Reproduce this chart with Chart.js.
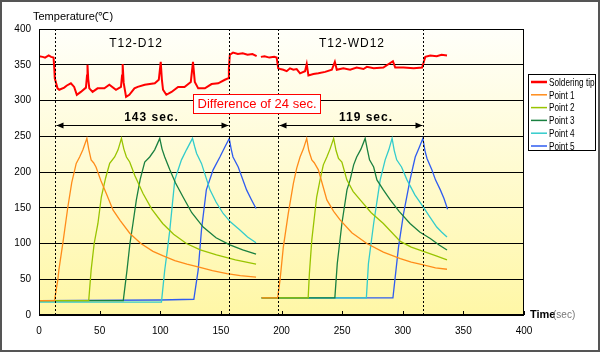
<!DOCTYPE html>
<html>
<head>
<meta charset="utf-8">
<script src="https://cdn.jsdelivr.net/npm/chart.js@4.4.1/dist/chart.umd.min.js"></script>
<style>
html, body { margin: 0; padding: 0; background: #fff; }
</style>
</head>
<body>
<canvas id="temp-chart" width="600" height="352"></canvas>
<script>
// values: time in sec, temperature in degC
// null at 181.5 splits the two runs
const tipTime = [0, 3, 5, 8, 10, 12, 12.6, 13, 15.3, 16.7, 20.8, 23, 26.3, 29, 31.2, 34.5, 38.7, 39.6, 40, 40.6, 41.5, 44.2, 48.3, 53.9, 58, 63.5, 67.6, 68.5, 69, 69.8, 71.8, 74.5, 78.7, 81.4, 87.2, 95.5, 98.8, 100.4, 101.3, 102.3, 105, 109.3, 114.7, 120, 125.2, 127, 128.5, 131.3, 136.8, 142.3, 147.8, 153.3, 156, 156.6, 157.4, 160, 164, 168, 172, 176, 179.5,
  181.5,
  183, 186, 190, 194, 196, 197.3, 199, 201.5, 204.3, 207, 209.8, 212.5, 215.3, 219.4, 220.8, 222.2, 226.3, 230.4, 236, 241.5, 244, 245.6, 251, 256.6, 262, 267.6, 270.4, 276, 284, 291.9, 293.8, 300.7, 309, 316, 317.5, 318.6, 322.7, 328, 332, 336.5];
const tipTemp = [362, 361, 360, 363, 361, 360, 345, 331, 317, 315, 318, 321, 324, 319, 308, 312, 318, 335, 350, 330, 317, 312, 317, 317, 322, 315, 319, 335, 351, 325, 305, 308, 317, 319, 322, 324, 329, 354, 330, 315, 308, 312, 319, 319, 326, 354, 326, 317, 317, 323, 324, 329, 331, 345, 364, 367, 365, 366, 364, 365, 362,
  null,
  361, 362, 360, 361, 360, 345, 344, 343, 341, 345, 343, 344, 338, 341, 351, 335, 337, 338, 340, 343, 354, 343, 345, 343, 346, 344, 347, 345, 346, 355, 346, 346, 345, 346, 355, 361, 363, 362, 364, 363];

const p1Time = [0, 12.8, 15.5, 16.4, 19.7, 23.8, 27, 30.7, 33.5, 36.2, 39.5, 41, 43, 45, 47, 51, 55.5, 61, 67, 75, 84, 94, 102, 112, 122, 132, 143, 155, 166, 179,
  181.5,
  183.6, 196.8, 198.8, 201.5, 205.6, 209.8, 212.5, 215.3, 218, 220.8, 222.5, 225, 227, 230.4, 237.4, 243, 248.3, 258, 270.4, 284, 298, 307, 317, 327, 336.5];
const p1Temp = [20, 20, 49, 63, 101, 151, 185, 212, 221, 231, 247, 232, 217, 213, 207, 188, 170, 147, 132, 114, 100, 89, 83, 76, 71, 67, 62, 58, 55, 53,
  null,
  24, 24, 49, 95, 142, 184, 205, 221, 232, 247, 230, 217, 213, 203, 161, 145, 133, 115, 100, 88, 79, 74, 70, 66, 64];

const p2Time = [0, 41, 43, 45.5, 48.6, 51.4, 55, 58.3, 62.4, 65.2, 68, 70, 72.1, 74.8, 79, 85.8, 93, 102, 111, 121.6, 133, 146.4, 162, 179,
  181.5,
  183.6, 222, 223, 225, 229, 231.8, 234.5, 237.4, 240, 243, 245, 247, 249.8, 253.9, 259, 264.9, 274, 284, 298, 307, 317, 327, 336.5];
const p2Temp = [20, 20, 63, 100, 128, 165, 192, 212, 221, 231, 247, 232, 221, 214, 195, 170, 148, 128, 113, 100, 91, 84, 77, 71,
  null,
  24, 24, 58, 105, 165, 189, 210, 221, 232, 247, 230, 219, 214, 189, 173, 161, 143, 128, 103, 95, 89, 83, 77];

const p3Time = [0, 69.5, 72.6, 75, 77.5, 80.3, 83.5, 87.2, 91.3, 95.4, 99.6, 101.5, 103.7, 107.9, 112.5, 118.8, 126, 135.4, 146, 157.4, 168, 179,
  181.5,
  183.6, 244, 246, 249.8, 254, 256.6, 259.5, 262, 265.5, 269, 271, 272.6, 276, 278.7, 284, 289.7, 297, 306, 314, 322.7, 330, 336.5];
const p3Temp = [20, 20, 63, 100, 128, 161, 190, 214, 221, 231, 247, 232, 221, 203, 185, 165, 143, 123, 108, 98, 91, 85,
  null,
  24, 24, 72, 128, 175, 189, 210, 221, 232, 247, 230, 217, 207, 189, 175, 161, 145, 128, 116, 107, 98, 91];

const p4Time = [0, 101, 103.7, 105.8, 107.9, 110, 112, 117.5, 121.6, 126.6, 128.3, 130, 134, 141, 146, 151.9, 158, 165.7, 172, 179,
  181.5,
  183.6, 270, 271.7, 276, 281.4, 285.5, 288.5, 291.2, 293, 295, 299, 303.5, 310, 317, 322, 328, 332, 336.5];
const p4Temp = [18, 18, 63, 90, 119, 155, 189, 217, 231, 247, 236, 226, 212, 175, 158, 142, 130, 119, 109, 101,
  null,
  24, 24, 72, 128, 189, 217, 231, 247, 230, 217, 207, 189, 168, 151, 138, 123, 116, 109];

const p5Time = [0, 100, 127.7, 131.3, 134, 138, 143.6, 149.2, 153.3, 156.9, 158.5, 160, 164.3, 171.2, 175, 179,
  181.5,
  183.6, 291.9, 296.5, 300.7, 306, 308.4, 310.3, 313.5, 316.6, 318.3, 320, 324, 327, 331, 334, 337];
const p5Temp = [20, 21, 22, 63, 119, 175, 203, 221, 235, 247, 232, 221, 207, 175, 162, 149,
  null,
  24, 24, 95, 142, 189, 207, 221, 234, 247, 230, 219, 203, 189, 175, 163, 148];

const seriesNames = ["Soldering tip", "Point 1", "Point 2", "Point 3", "Point 4", "Point 5"];
const seriesColors = ["#ff0000", "#ff8c1a", "#99c400", "#1a8040", "#33cccc", "#2f5cf0"];

// dashed markers (sec) and the notes on top
const markerTimes = [13, 156.5, 197.5, 316.5];
const runLabels = ["T12-D12", "T12-WD12"];
const spanLabels = ["143 sec.", "119 sec."];
const diffLabel = "Difference of 24 sec.";


function pairs(t, v) {
    return t.map(function (x, i) { return { x: x, y: v[i] }; });
}

const allTimes = [tipTime, p1Time, p2Time, p3Time, p4Time, p5Time];
const allTemps = [tipTemp, p1Temp, p2Temp, p3Temp, p4Temp, p5Temp];

const datasets = seriesNames.map(function (name, i) {
    return {
        label: name,
        data: pairs(allTimes[i], allTemps[i]),
        borderColor: seriesColors[i],
        borderWidth: i == 0 ? 2 : 1.3,
        pointRadius: 0,
        tension: 0,
        spanGaps: false
    };
});

function arrow(ctx, x1, x2, y) {
    ctx.beginPath();
    ctx.moveTo(x1, y);
    ctx.lineTo(x2, y);
    ctx.stroke();
    ctx.beginPath();
    ctx.moveTo(x1, y);
    ctx.lineTo(x1 + 7, y - 3);
    ctx.lineTo(x1 + 7, y + 3);
    ctx.closePath();
    ctx.fill();
    ctx.beginPath();
    ctx.moveTo(x2, y);
    ctx.lineTo(x2 - 7, y - 3);
    ctx.lineTo(x2 - 7, y + 3);
    ctx.closePath();
    ctx.fill();
}

const decorations = {
    id: 'decorations',
    beforeDraw(chart) {
        const ctx = chart.ctx, a = chart.chartArea;
        ctx.save();
        ctx.fillStyle = "#fff";
        ctx.fillRect(0, 0, chart.width, chart.height);
        const g = ctx.createLinearGradient(0, a.top, 0, a.bottom);
        g.addColorStop(0, "#fffffa");
        g.addColorStop(1, "#fff7a6");
        ctx.fillStyle = g;
        ctx.fillRect(a.left, a.top, a.right - a.left, a.bottom - a.top);
        ctx.restore();
    },
    afterDatasetsDraw(chart) {
        const ctx = chart.ctx, a = chart.chartArea;
        const xs = chart.scales.x;
        const mx = markerTimes.map(function (t) { return Math.round(xs.getPixelForValue(t)) + 0.5; });
        ctx.save();

        // dashed markers
        ctx.strokeStyle = "#000";
        ctx.lineWidth = 1;
        ctx.setLineDash([2, 2]);
        mx.forEach(function (x) {
            ctx.beginPath();
            ctx.moveTo(x, a.top);
            ctx.lineTo(x, a.bottom);
            ctx.stroke();
        });
        ctx.setLineDash([]);

        // run titles
        ctx.fillStyle = "#000";
        ctx.textAlign = "center";
        ctx.textBaseline = "middle";
        ctx.font = "12px 'Liberation Sans', Arial, sans-serif";
        ctx.letterSpacing = "1px";
        ctx.fillText(runLabels[0], 136, 44);
        ctx.fillText(runLabels[1], 352, 44);

        // spans with arrows
        ctx.font = "bold 12px 'Liberation Sans', Arial, sans-serif";
        ctx.fillText(spanLabels[0], (mx[0] + mx[1]) / 2 + 9, 118);
        ctx.fillText(spanLabels[1], (mx[2] + mx[3]) / 2 + 15, 118);
        ctx.letterSpacing = "0px";
        ctx.fillStyle = "#000";
        ctx.strokeStyle = "#000";
        arrow(ctx, mx[0] + 1, mx[1] - 1, 125.5);
        arrow(ctx, mx[2] + 1, mx[3] - 1, 125.5);

        // difference box
        ctx.fillStyle = "#fff";
        ctx.fillRect(193, 94, 128, 20);
        ctx.strokeStyle = "#ff0000";
        ctx.strokeRect(193.5, 94.5, 127, 19);
        ctx.fillStyle = "#ff0000";
        ctx.font = "13px 'Liberation Sans', Arial, sans-serif";
        ctx.fillText(diffLabel, 257, 104.5);

        // small inward ticks on the time axis
        ctx.strokeStyle = "#000";
        xs.ticks.forEach(function (t) {
            const x = Math.round(xs.getPixelForValue(t.value)) + 0.5;
            ctx.beginPath();
            ctx.moveTo(x, a.bottom);
            ctx.lineTo(x, a.bottom - 4);
            ctx.stroke();
        });
        ctx.restore();
    },
    afterDraw(chart) {
        const ctx = chart.ctx, a = chart.chartArea;
        ctx.save();
        // plot frame
        ctx.strokeStyle = "#000";
        ctx.lineWidth = 1;
        ctx.strokeRect(a.left + 0.5, a.top + 0.5, a.right - a.left - 1, a.bottom - a.top - 1);

        // axis titles
        ctx.fillStyle = "#000";
        ctx.textBaseline = "middle";
        ctx.textAlign = "left";
        ctx.font = "11px 'Liberation Sans', Arial, sans-serif";
        ctx.fillText("Temperature(\u2103)", 33, 17);
        ctx.font = "bold 11px 'Liberation Sans', Arial, sans-serif";
        ctx.fillText("Time", 530, 315);
        ctx.fillStyle = "#777";
        ctx.font = "10px 'Liberation Sans', Arial, sans-serif";
        ctx.fillText("(sec)", 553, 315);

        // legend, narrow text clipped by the box like the original
        const lx = 528, ly = 74, lw = 68, lh = 77;
        ctx.fillStyle = "#fff";
        ctx.fillRect(lx, ly, lw, lh);
        ctx.strokeStyle = "#000";
        ctx.strokeRect(lx + 0.5, ly + 0.5, lw - 1, lh - 1);
        ctx.beginPath();
        ctx.rect(lx + 1, ly + 1, lw - 2, lh - 2);
        ctx.clip();
        chart.data.datasets.forEach(function (ds, i) {
            const y = 82 + i * 12.8;
            ctx.strokeStyle = ds.borderColor;
            ctx.lineWidth = i == 0 ? 2.5 : 1.5;
            ctx.beginPath();
            ctx.moveTo(531, y);
            ctx.lineTo(547, y);
            ctx.stroke();
            ctx.save();
            ctx.translate(549, y + 1);
            ctx.scale(0.78, 1);
            ctx.fillStyle = "#000";
            ctx.font = "10.5px 'Liberation Sans', Arial, sans-serif";
            ctx.fillText(ds.label, 0, 0);
            ctx.restore();
        });
        ctx.restore();

        // outer frame
        ctx.save();
        ctx.strokeStyle = "#555";
        ctx.lineWidth = 2;
        ctx.strokeRect(1, 1, chart.width - 2, chart.height - 2);
        ctx.restore();
    }
};

const config = {
    type: 'line',
    data: { datasets: datasets },
    options: {
        responsive: false,
        animation: false,
        devicePixelRatio: 1,
        layout: { padding: { left: 2, top: 29, right: 76, bottom: 2 } },
        plugins: {
            legend: { display: false },
            tooltip: { enabled: false }
        },
        scales: {
            x: {
                type: 'linear',
                min: 0,
                max: 400,
                ticks: { stepSize: 50, color: "#000", padding: 10, maxRotation: 0,
                    font: { family: "'Liberation Sans', Arial, sans-serif", size: 10 } },
                grid: { display: false, drawTicks: false },
                border: { display: false },
                afterFit: function (s) { s.height = 35; }
            },
            y: {
                min: 0,
                max: 400,
                ticks: { stepSize: 50, color: "#000", padding: 8,
                    font: { family: "'Liberation Sans', Arial, sans-serif", size: 10 } },
                grid: { color: "#000", lineWidth: 1, drawTicks: false },
                border: { display: false },
                afterFit: function (s) { s.width = 37; }
            }
        }
    },
    plugins: [decorations]
};

const tempChart = new Chart(document.getElementById('temp-chart'), config);
</script>
</body>
</html>
